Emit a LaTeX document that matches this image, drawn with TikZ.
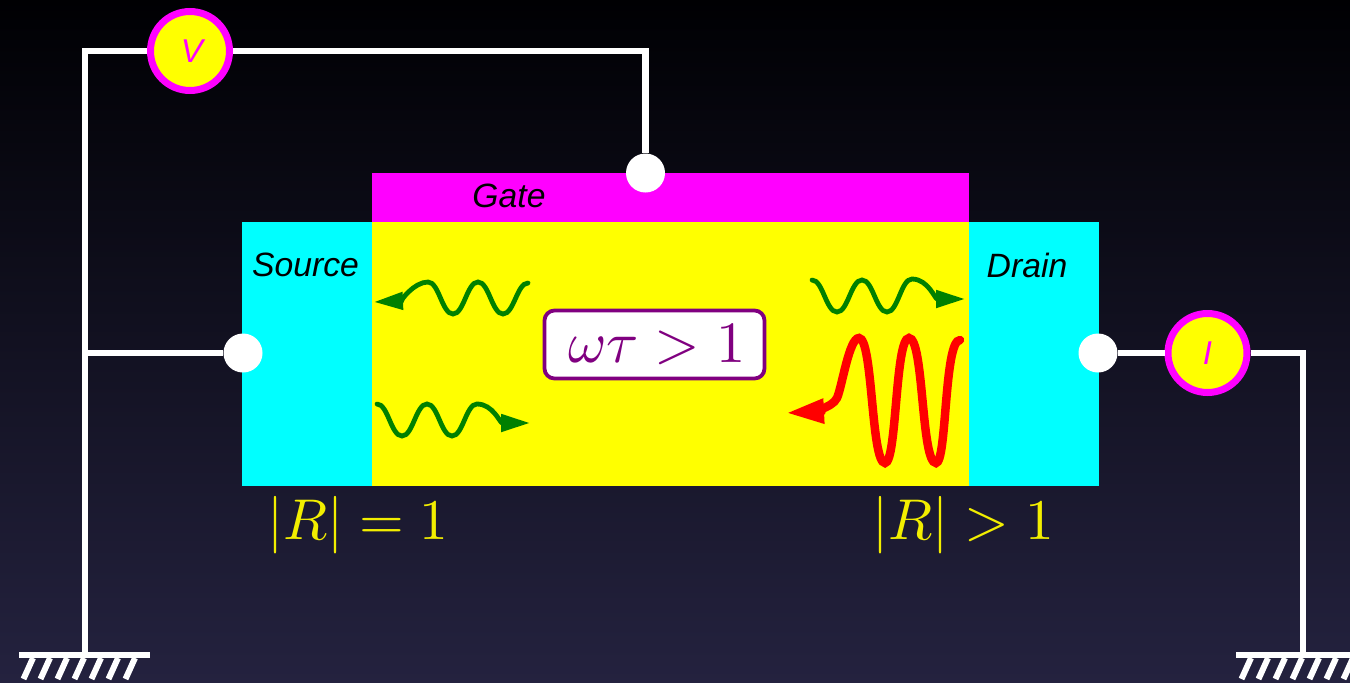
\documentclass[tikz,border=0pt]{standalone}
\usepackage[no-math]{fontspec}
\setmainfont{Liberation Sans}
\usetikzlibrary{arrows.meta,calc}
\definecolor{bgtop}{HTML}{000003}
\definecolor{bgbot}{HTML}{24223F}
\definecolor{pgreen}{HTML}{008000}
\definecolor{ppurple}{HTML}{800080}
\definecolor{lblyellow}{HTML}{F2EE00}
\definecolor{pcyan}{HTML}{00FFFF}
\definecolor{pmagenta}{HTML}{FF00FF}
\definecolor{pyellow}{HTML}{FFFF00}
\definecolor{pred}{HTML}{FF0000}
\tikzset{
  x=1pt,y=-1pt,
  region/.style={draw=none,inner sep=0pt,outer sep=0pt,anchor=north west},
  wire/.style={draw=white,line width=6.8pt},
  pin/.style={circle,fill=white,inner sep=0pt,minimum size=39pt},
  meter/.style={circle,draw=pmagenta,fill=pyellow,line width=7pt,inner sep=0pt,minimum size=79pt,text=pmagenta,font=\fontsize{33}{36}\selectfont\itshape},
  lbl/.style={text=black,font=\fontsize{33.7}{36}\selectfont\itshape,inner sep=0pt},
  mathlbl/.style={text=lblyellow,inner sep=0pt},
  cond/.style={draw=ppurple,line width=3.8pt,fill=white,rounded corners=10pt,text=ppurple,minimum width=220pt,minimum height=68pt,inner sep=0pt},
  gwave/.style={draw=pgreen,line width=4.8pt,line cap=round,-{Triangle[length=29pt,width=17pt,fill=pgreen]}},
  rwave/.style={draw=pred,line width=8.5pt,line cap=round,-{Triangle[length=38pt,width=23pt,fill=pred]}},
  gndbar/.style={draw=white,line width=6.8pt},
  gndhatch/.style={draw=white,line width=6pt},
}
\newcommand{\hatches}[1]{%
  \foreach \k in {0,...,6}{\draw[gndhatch] ($(#1)+(\k*17-52,3)$) -- ++(-9.5,21);}%
}
\begin{document}
\begin{tikzpicture}
\useasboundingbox (0,0) rectangle (1350,683);
\clip (0,0) rectangle (1350,683);
\shade[top color=bgtop,bottom color=bgbot] (0,0) rectangle (1350,683);
% device
\node[region,fill=pcyan,minimum width=130pt,minimum height=264pt] (source) at (242,222) {};
\node[region,fill=pcyan,minimum width=130pt,minimum height=264pt] (drain) at (968.5,222) {};
\node[region,fill=pyellow,minimum width=597pt,minimum height=264pt] (channel) at (372,222) {};
\node[region,fill=pmagenta,minimum width=597pt,minimum height=49pt] (gate) at (372,173) {};
\node[lbl] (tg) at (509,196) {Gate};
\node[lbl] (ts) at (305.5,265) {Source};
\node[lbl] (td) at (1027,265) {Drain};
% pins and meters
\node[pin] (gatepin) at (645.5,173) {};
\node[pin] (srcpin) at (243,353) {};
\node[pin] (drainpin) at (1098,353) {};
\node[meter] (vm) at (190,51) {\hspace*{4pt}V};
\node[meter] (im) at (1207.5,353) {I};
% ground points
\coordinate (g1) at (85,655);
\coordinate (g2) at (1303,655);
\coordinate (j) at (85,353);
% wires
\draw[wire] (g1) |- (vm.west);
\draw[wire] (vm.east) -| (gatepin.north);
\draw[wire] (j) -- (srcpin.west);
\draw[wire] (drainpin.east) -- (im.west);
\draw[wire] (im.east) -| (g2);
% grounds
\draw[gndbar] ($(g1)+(-66,0)$) -- ($(g1)+(65,0)$);
\draw[gndbar] ($(g2)+(-67,0)$) -- ($(g2)+(65,0)$);
\hatches{g1}
\hatches{g2}
% green waves
\draw[gwave] (528,283) .. controls +(-11,0) and +(11,0) .. (503,314)
  .. controls +(-11,0) and +(11,0) .. (478,282)
  .. controls +(-11,0) and +(11,0) .. (453,314)
  .. controls +(-11,0) and +(11,0) .. (428,282)
  .. controls +(-14,0) and +(26,-1) .. (374,302);
\draw[gwave] (377,404) .. controls +(11,0) and +(-11,0) .. (402,436)
  .. controls +(11,0) and +(-11,0) .. (427,404)
  .. controls +(11,0) and +(-11,0) .. (452,436)
  .. controls +(11,0) and +(-11,0) .. (477,404)
  .. controls +(16,0) and +(-30,0) .. (530,423);
\draw[gwave] (812,280) .. controls +(11,0) and +(-11,0) .. (837,312)
  .. controls +(11,0) and +(-11,0) .. (862,280)
  .. controls +(11,0) and +(-11,0) .. (887,312)
  .. controls +(11,0) and +(-11,0) .. (912,279)
  .. controls +(16,0) and +(-30,0) .. (965,299);
% red wave
\draw[rwave] (960,340) .. controls +(-16,0) and +(11,0) .. (936,463)
  .. controls +(-15,0) and +(15,0) .. (909,338)
  .. controls +(-14,0) and +(12,0) .. (885,463)
  .. controls +(-14,0) and +(14,0) .. (859,338)
  .. controls +(-10,0) and +(5,-11) .. (837,398)
  .. controls +(-5,11) and +(20,-1) .. (786,413);
% condition box
\node[cond] (cb) at (654.5,344.5) {\raisebox{1pt}{\hspace*{5pt}\scalebox{5.85}{$\omega\tau>1$}}};
% labels
\node[mathlbl] (r1) at (358,525) {\scalebox{5.75}{$|R|=1$}};
\node[mathlbl] (r2) at (963.5,525) {\scalebox{5.75}{$|R|>1$}};
\end{tikzpicture}
\end{document}
